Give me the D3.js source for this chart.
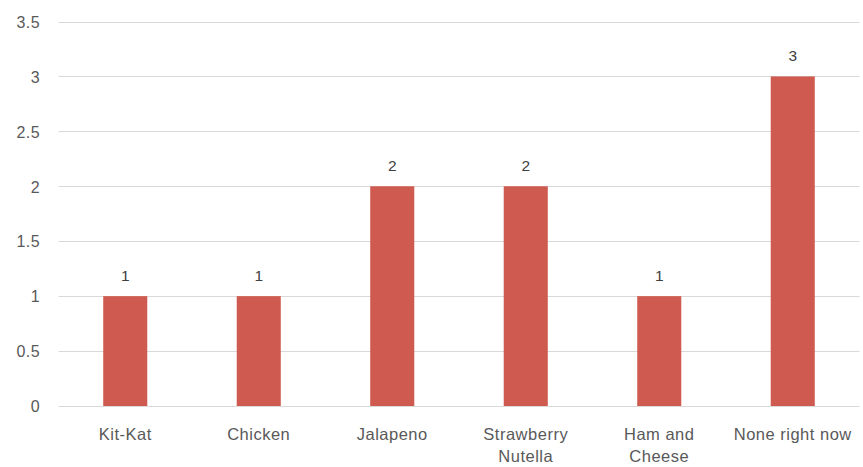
<!DOCTYPE html>
<html>
<head>
<meta charset="utf-8">
<script src="https://cdn.jsdelivr.net/npm/d3@7"></script>
<style>
  html, body { margin: 0; padding: 0; background: #fff; }
  svg { display: block; }
  text { font-family: "Liberation Sans", Arial, sans-serif; }
</style>
</head>
<body>
<svg id="chart" width="863" height="467"></svg>
<script>
const categories = ["Kit-Kat", "Chicken", "Jalapeno", "Strawberry\nNutella", "Ham and\nCheese", "None right now"];
const values = [1, 1, 2, 2, 1, 3];
const yTicks = [0, 0.5, 1, 1.5, 2, 2.5, 3, 3.5];

const svg = d3.select("#chart");
const x = d3.scaleBand().domain(categories).range([58.5, 859.5]).paddingInner(0.67).paddingOuter(0.335);
const y = d3.scaleLinear().domain([0, 3.5]).range([406, 21.5]);

// gridlines
svg.append("g").selectAll("line").data(yTicks).join("line")
  .attr("x1", 58.5).attr("x2", 859.5)
  .attr("y1", d => Math.round(y(d)) + 0.5).attr("y2", d => Math.round(y(d)) + 0.5)
  .attr("stroke", "#d9d9d9").attr("stroke-width", 1.2);

// y labels
const yAxis = d3.axisLeft(y).tickValues(yTicks).tickFormat(d => String(d)).tickSize(0).tickPadding(0);
const ya = svg.append("g").attr("transform", "translate(40,0)").call(yAxis);
ya.select(".domain").remove();
ya.selectAll("text").attr("fill", "#595959").style("font-size", "16px")
  .style("font-family", "'Liberation Sans', Arial, sans-serif").style("letter-spacing", "0.4px").attr("dy", "0.36em");

// bars
svg.append("g").selectAll("rect").data(categories).join("rect")
  .attr("x", d => x(d)).attr("width", x.bandwidth())
  .attr("y", (d, i) => y(values[i])).attr("height", (d, i) => y(0) - y(values[i]))
  .attr("fill", "#cf5a4f");

// data labels
svg.append("g").selectAll("text").data(categories).join("text")
  .attr("x", d => x(d) + x.bandwidth() / 2)
  .attr("y", (d, i) => y(values[i]) - 15)
  .attr("text-anchor", "middle").attr("fill", "#404040").style("font-size", "15.5px")
  .text((d, i) => values[i]);

// x labels
const xl = svg.append("g").selectAll("text").data(categories).join("text")
  .attr("x", d => x(d) + x.bandwidth() / 2)
  .attr("y", 440)
  .attr("text-anchor", "middle").attr("fill", "#595959")
  .style("font-size", "16.5px").style("letter-spacing", "0.5px");
xl.each(function(d) {
  const lines = d.split("\n");
  const t = d3.select(this);
  lines.forEach((ln, k) => {
    t.append("tspan").attr("x", x(d) + x.bandwidth() / 2).attr("dy", k === 0 ? 0 : 22).text(ln);
  });
});
</script>
</body>
</html>
